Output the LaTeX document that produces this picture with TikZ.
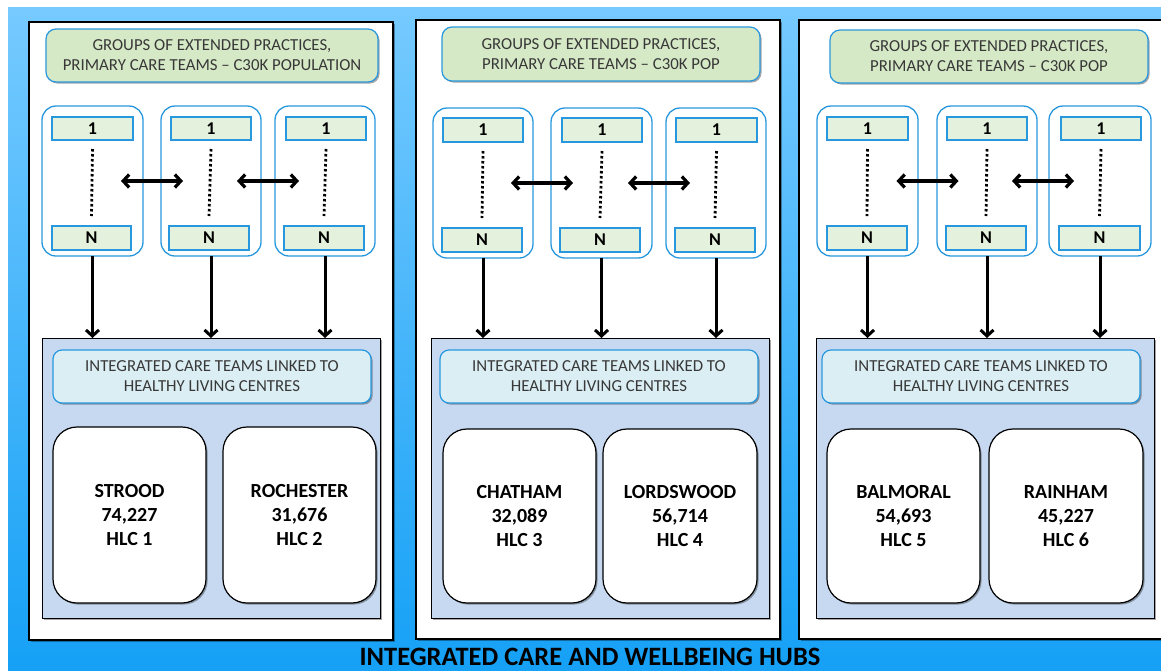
\documentclass[tikz,border=0pt]{standalone}
\usepackage{fontspec}
\setmainfont{Carlito}
\usetikzlibrary{arrows.meta,shadows,calc}

\definecolor{bgtop}{RGB}{118,202,255}
\definecolor{bgbot}{RGB}{20,160,246}
\definecolor{rule}{RGB}{40,152,222}
\definecolor{hdrgreen}{RGB}{214,233,198}
\definecolor{slotgreen}{RGB}{228,241,220}
\definecolor{hubblue}{RGB}{198,217,240}
\definecolor{teamblue}{RGB}{219,238,244}
\definecolor{txtgray}{RGB}{56,56,56}

% box given by its two corners (x1,y1) and (x2,y2), in pixel-like units
\newcommand\rbox[7]{%
  \node[#1, inner sep=0pt, outer sep=0pt,
        minimum width={#5-#3}, minimum height={#6-#4}]
    (#2) at ({(#3+#5)/2},{(#4+#6)/2}) {#7};}

\tikzset{
  shadowed/.style={drop shadow={shadow xshift=1.6pt, shadow yshift=-1.6pt, opacity=0.35, fill=black}},
  panel/.style={draw=black, fill=white, line width=1.2pt, shadowed},
  header/.style={draw=rule, fill=hdrgreen, line width=1.2pt, rounded corners=10pt,
    align=center, text=txtgray, font=\fontsize{16.8}{20}\selectfont, shadowed},
  group/.style={draw=rule, fill=white, line width=1.3pt, rounded corners=14pt},
  slot/.style={draw=rule, fill=slotgreen, line width=1.2pt,
    font=\fontsize{18}{20}\selectfont\bfseries},
  hub/.style={draw=black, fill=hubblue, line width=1pt, shadowed},
  teams/.style={draw=rule, fill=teamblue, line width=1.2pt, rounded corners=9pt,
    align=center, text=txtgray, font=\fontsize{16.8}{20}\selectfont, shadowed},
  hlc/.style={draw=black, fill=white, line width=1.2pt, rounded corners=24pt,
    align=center, font=\fontsize{20}{24}\selectfont\bfseries, shadowed},
  barb/.tip={Straight Barb[length=6pt,width=13pt]},
  feed/.style={line width=3pt, -barb},
  peer/.style={line width=3.2pt, barb-barb},
  chain/.style={line width=2.8pt, dash pattern=on 2.5pt off 2.5pt},
}

\begin{document}
\begin{tikzpicture}[x=1pt,y=-1pt]
\useasboundingbox (0,0) rectangle (1161,670);

% blue backdrop
\shade[top color=bgtop, bottom color=bgbot] (8,7) rectangle (1175,680);

% ---------------- first hub ----------------
\rbox{panel}{P1}{29}{22}{393}{640}{}
\rbox{header}{H1}{46}{29}{378}{82}{GROUPS OF EXTENDED PRACTICES,\\PRIMARY CARE TEAMS – C30K POPULATION}
\rbox{group}{G11}{42}{106}{143}{256}{}
\rbox{group}{G12}{161}{106}{261}{256}{}
\rbox{group}{G13}{275}{106}{375}{256}{}
\rbox{slot}{A11}{52}{117}{133}{140}{1}
\rbox{slot}{A12}{171}{117}{251}{140}{1}
\rbox{slot}{A13}{286}{117}{366}{140}{1}
\rbox{slot}{B11}{52}{226}{131}{250}{N}
\rbox{slot}{B12}{169}{226}{249}{250}{N}
\rbox{slot}{B13}{284}{226}{364}{250}{N}
\rbox{hub}{U1}{42}{338}{380}{618}{}
\rbox{teams}{T1}{53}{350}{371}{403}{INTEGRATED CARE TEAMS LINKED TO\\HEALTHY LIVING CENTRES}
\rbox{hlc}{L11}{53}{427}{206}{603}{STROOD\\74,227\\HLC 1}
\rbox{hlc}{L12}{223}{427}{376}{603}{ROCHESTER\\31,676\\HLC 2}

% ---------------- second hub ----------------
\rbox{panel}{P2}{416}{20}{780}{639}{}
\rbox{header}{H2}{442}{27}{760}{81}{GROUPS OF EXTENDED PRACTICES,\\PRIMARY CARE TEAMS – C30K POP}
\rbox{group}{G21}{433}{108}{533}{258}{}
\rbox{group}{G22}{551}{108}{652}{258}{}
\rbox{group}{G23}{666}{108}{766}{258}{}
\rbox{slot}{A21}{443}{118}{523}{142}{1}
\rbox{slot}{A22}{562}{118}{642}{142}{1}
\rbox{slot}{A23}{676}{118}{757}{142}{1}
\rbox{slot}{B21}{442}{228}{522}{252}{N}
\rbox{slot}{B22}{560}{228}{640}{252}{N}
\rbox{slot}{B23}{675}{228}{755}{252}{N}
\rbox{hub}{U2}{431}{338}{769}{618}{}
\rbox{teams}{T2}{440}{350}{758}{403}{INTEGRATED CARE TEAMS LINKED TO\\HEALTHY LIVING CENTRES}
\rbox{hlc}{L21}{443}{429}{596}{603}{CHATHAM\\32,089\\HLC 3}
\rbox{hlc}{L22}{603}{429}{757}{603}{LORDSWOOD\\56,714\\HLC 4}

% ---------------- third hub ----------------
\rbox{panel}{P3}{799}{20}{1172}{639}{}
\rbox{header}{H3}{830}{30}{1148}{83}{GROUPS OF EXTENDED PRACTICES,\\PRIMARY CARE TEAMS – C30K POP}
\rbox{group}{G31}{817}{106}{918}{256}{}
\rbox{group}{G32}{937}{106}{1037}{256}{}
\rbox{group}{G33}{1049}{106}{1151}{256}{}
\rbox{slot}{A31}{827}{117}{908}{140}{1}
\rbox{slot}{A32}{947}{117}{1027}{140}{1}
\rbox{slot}{A33}{1061}{117}{1141}{140}{1}
\rbox{slot}{B31}{827}{226}{907}{250}{N}
\rbox{slot}{B32}{946}{226}{1026}{250}{N}
\rbox{slot}{B33}{1059}{226}{1140}{250}{N}
\rbox{hub}{U3}{816}{338}{1154}{618}{}
\rbox{teams}{T3}{822}{350}{1140}{403}{INTEGRATED CARE TEAMS LINKED TO\\HEALTHY LIVING CENTRES}
\rbox{hlc}{L31}{827}{429}{980}{603}{BALMORAL\\54,693\\HLC 5}
\rbox{hlc}{L32}{989}{429}{1143}{603}{RAINHAM\\45,227\\HLC 6}

% dotted chains between first and last practice, feeds into the hubs
\foreach \p in {1,2,3}{
  \foreach \g in {1,2,3}{
    \draw[chain] ([yshift=-9pt]A\p\g.south) -- ([yshift=10pt]B\p\g.north);
    \draw[feed] (G\p\g.south) -- (G\p\g.south |- U\p.north);
  }
  \coordinate (M\p a) at ($(G\p1.east)!0.5!(G\p2.west)$);
  \coordinate (M\p b) at ($(G\p2.east)!0.5!(G\p3.west)$);
  \draw[peer] ([xshift=-31pt]M\p a) -- ([xshift=31pt]M\p a);
  \draw[peer] ([xshift=-31pt]M\p b) -- ([xshift=31pt]M\p b);
}

\node[anchor=base, font=\fontsize{26.5}{30}\selectfont\bfseries, inner sep=0pt] (title)
  at (590,665.5) {INTEGRATED CARE AND WELLBEING HUBS};
\end{tikzpicture}
\end{document}
